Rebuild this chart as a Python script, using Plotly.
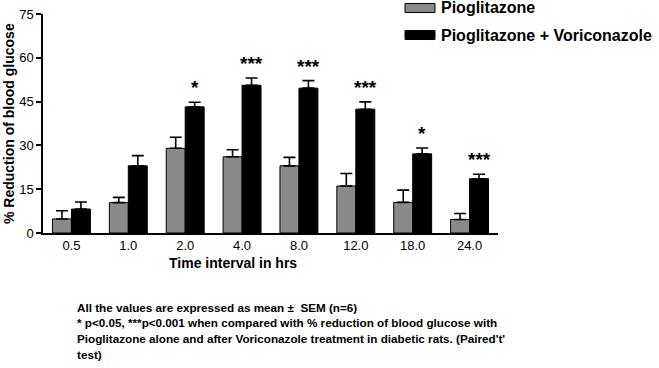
import plotly.graph_objects as go

categories = ["0.5", "1.0", "2.0", "4.0", "8.0", "12.0", "18.0", "24.0"]
pio = [4.8, 10.4, 29.0, 26.1, 23.0, 16.1, 10.5, 4.6]
pio_sem = [2.8, 1.8, 3.8, 2.4, 2.9, 4.3, 4.2, 2.1]
pio_vori = [8.2, 23.0, 43.2, 50.6, 49.6, 42.4, 27.1, 18.6]
pio_vori_sem = [2.4, 3.5, 1.6, 2.5, 2.6, 2.5, 2.0, 1.5]
sig = ["", "", "*", "***", "***", "***", "*", "***"]
series_names = ["Pioglitazone", "Pioglitazone + Voriconazole"]
y_ticks = [0, 15, 30, 45, 60, 75]

GRAY = "#8a8a8a"
FONT = "Liberation Sans, Arial, sans-serif"

fig = go.Figure()
fig.add_trace(go.Bar(
    x=categories, y=pio, name=series_names[0],
    marker=dict(color=GRAY, line=dict(color="black", width=1)),
    error_y=dict(type="data", array=pio_sem, arrayminus=[0]*len(pio), symmetric=False,
                 color="black", thickness=1.6, width=6),
))
fig.add_trace(go.Bar(
    x=categories, y=pio_vori, name=series_names[1],
    marker=dict(color="black", line=dict(color="black", width=1)),
    error_y=dict(type="data", array=pio_vori_sem, arrayminus=[0]*len(pio_vori), symmetric=False,
                 color="black", thickness=1.6, width=6),
))

annotations = []
for i, (v, e, s) in enumerate(zip(pio_vori, pio_vori_sem, sig)):
    if s:
        annotations.append(dict(x=i, y=v + e, xref="x", yref="y", text="<b>" + s + "</b>",
                                showarrow=False, xshift=9.5, yanchor="bottom", yshift=2,
                                font=dict(family=FONT, size=19, color="black")))

# legend drawn manually
leg = [(series_names[0], GRAY, 8), (series_names[1], "black", 35)]
shapes = []
for name, col, yc in leg:
    shapes.append(dict(type="rect", xref="paper", yref="paper",
                       x0=(405 - 43) / 455, x1=(435 - 43) / 455,
                       y0=(233 - (yc + 4.5)) / 219, y1=(233 - (yc - 4.5)) / 219,
                       fillcolor=col, line=dict(color="black", width=1)))
    annotations.append(dict(x=(439 - 43) / 455, y=(233 - yc) / 219, xref="paper", yref="paper",
                            text="<b>" + name + "</b>", showarrow=False, xanchor="left", yanchor="middle",
                            font=dict(family=FONT, size=16, color="black")))

# axis titles
annotations.append(dict(x=(233 - 43) / 455, y=(233 - 263) / 219, xref="paper", yref="paper",
                        text="<b>Time interval in hrs</b>", showarrow=False, xanchor="center", yanchor="middle",
                        font=dict(family=FONT, size=14, color="black")))
annotations.append(dict(x=(9 - 43) / 455, y=(233 - 124) / 219, xref="paper", yref="paper",
                        text="<b>% Reduction of blood glucose</b>", showarrow=False, textangle=-90,
                        xanchor="center", yanchor="middle",
                        font=dict(family=FONT, size=14, color="black")))

foot = ["All the values are expressed as mean \u00b1  SEM (n=6)",
        "* p<0.05, ***p<0.001 when compared with % reduction of blood glucose with",
        "Pioglitazone alone and after Voriconazole treatment in diabetic rats. (Paired't'",
        "test)"]
for i, line in enumerate(foot):
    yc = 307 + 16 * i
    annotations.append(dict(x=(75 - 43) / 455, y=(233 - yc) / 219, xref="paper", yref="paper",
                            text="<b>" + line + "</b>", showarrow=False, xanchor="left", yanchor="middle",
                            font=dict(family=FONT, size=11.7, color="black")))

fig.update_layout(
    width=659, height=368,
    margin=dict(l=43, r=161, t=14, b=135, autoexpand=False),
    paper_bgcolor="white", plot_bgcolor="white",
    barmode="group", bargap=1/3, bargroupgap=0,
    showlegend=False,
    font=dict(family=FONT, color="black"),
    annotations=annotations, shapes=shapes,
    xaxis=dict(type="category", range=[-0.5, 7.5], showline=True, linecolor="black", linewidth=1.5,
               ticks="", showgrid=False, tickfont=dict(size=13), tickangle=0, zeroline=False,
               automargin=False),
    yaxis=dict(range=[0, 75], tickvals=y_ticks, showline=True, linecolor="black", linewidth=1.5,
               ticks="outside", ticklen=5, tickwidth=1.5, tickcolor="black", showgrid=False,
               zeroline=False, tickfont=dict(size=13), automargin=False),
)

fig.write_html("out.html", config={"displayModeBar": False},
               post_script="document.body.style.margin='0px';")
